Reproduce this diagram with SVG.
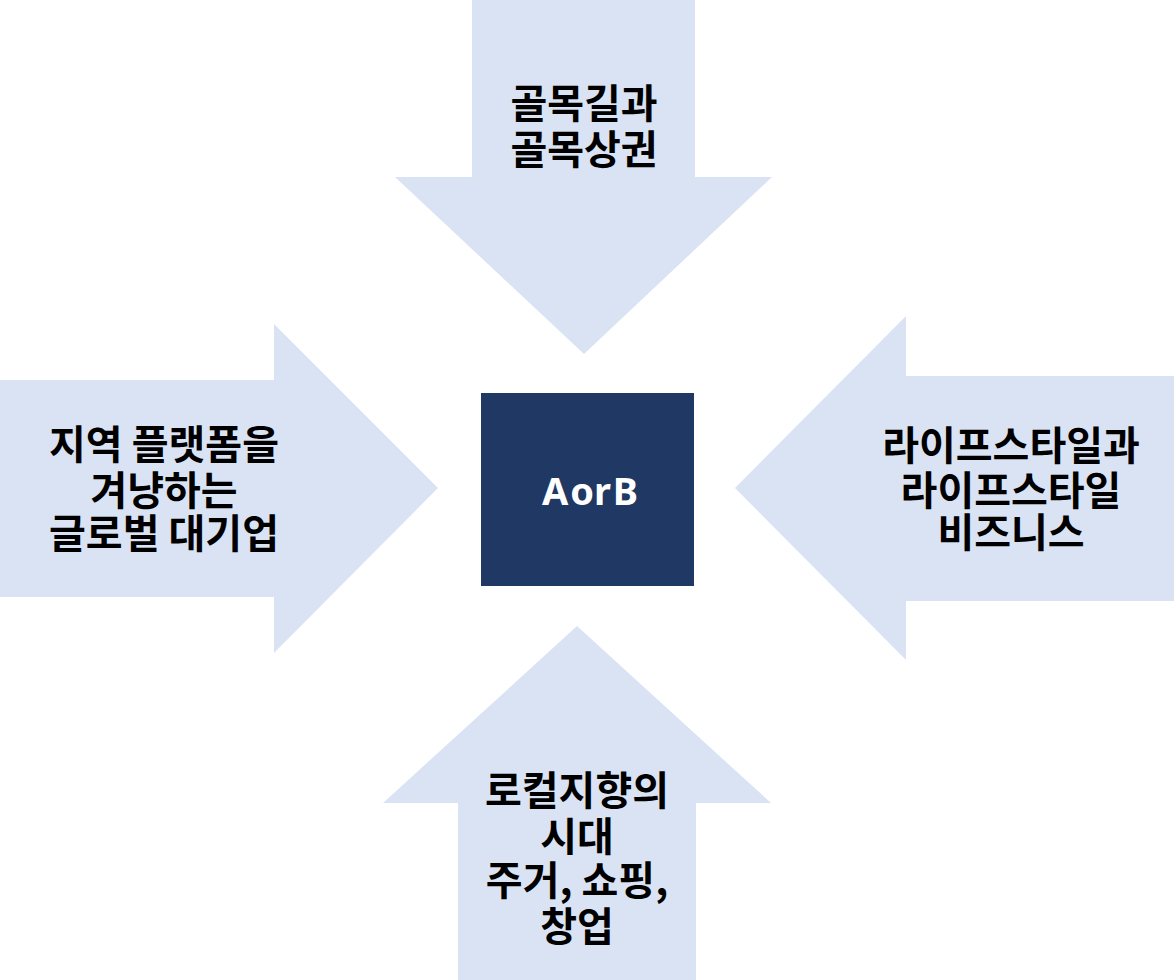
<svg xmlns="http://www.w3.org/2000/svg" width="1174" height="980" viewBox="0 0 1174 980">
<style>
.arrow{fill:#DAE3F3;}
.box{fill:#203864;}
.lbl{font-family:"Noto Sans CJK KR","Noto Sans",sans-serif;font-weight:bold;font-size:40px;fill:#000;text-anchor:middle;}
.ctr{font-family:"Noto Sans","Noto Sans CJK KR",sans-serif;font-weight:bold;font-size:38px;fill:#fff;text-anchor:middle;}
</style>
<rect width="1174" height="980" fill="#fff"/>
<g id="connectors"></g>
<g id="arrow-top">
<polygon class="arrow" points="472,0 695,0 695,177 772,177 584,354 395,177 472,177"/>
<text class="lbl" x="584" y="118">골목길과</text>
<text class="lbl" x="584" y="164">골목상권</text>
</g>
<g id="arrow-left">
<polygon class="arrow" points="0,380 274,380 274,324 438,488 274,653 274,597 0,597"/>
<text class="lbl" x="164" y="459">지역 플랫폼을</text>
<text class="lbl" x="164" y="505">겨냥하는</text>
<text class="lbl" x="164" y="548">글로벌 대기업</text>
</g>
<g id="arrow-right">
<polygon class="arrow" points="1174,376 906,376 906,316 735,488 906,660 906,601 1174,601"/>
<text class="lbl" x="1011" y="460">라이프스타일과</text>
<text class="lbl" x="1011" y="505">라이프스타일</text>
<text class="lbl" x="1011" y="547">비즈니스</text>
</g>
<g id="arrow-bottom">
<polygon class="arrow" points="458,980 696,980 696,803 771,803 577,626 383,803 458,803"/>
<text class="lbl" x="577" y="805">로컬지향의</text>
<text class="lbl" x="577" y="851">시대</text>
<text class="lbl" x="577" y="895">주거, 쇼핑,</text>
<text class="lbl" x="577" y="941">창업</text>
</g>
<g id="center">
<rect class="box" x="481" y="393" width="213" height="193"/>
<text class="ctr" x="590" y="505" word-spacing="-8">A or B</text>
</g>
</svg>
